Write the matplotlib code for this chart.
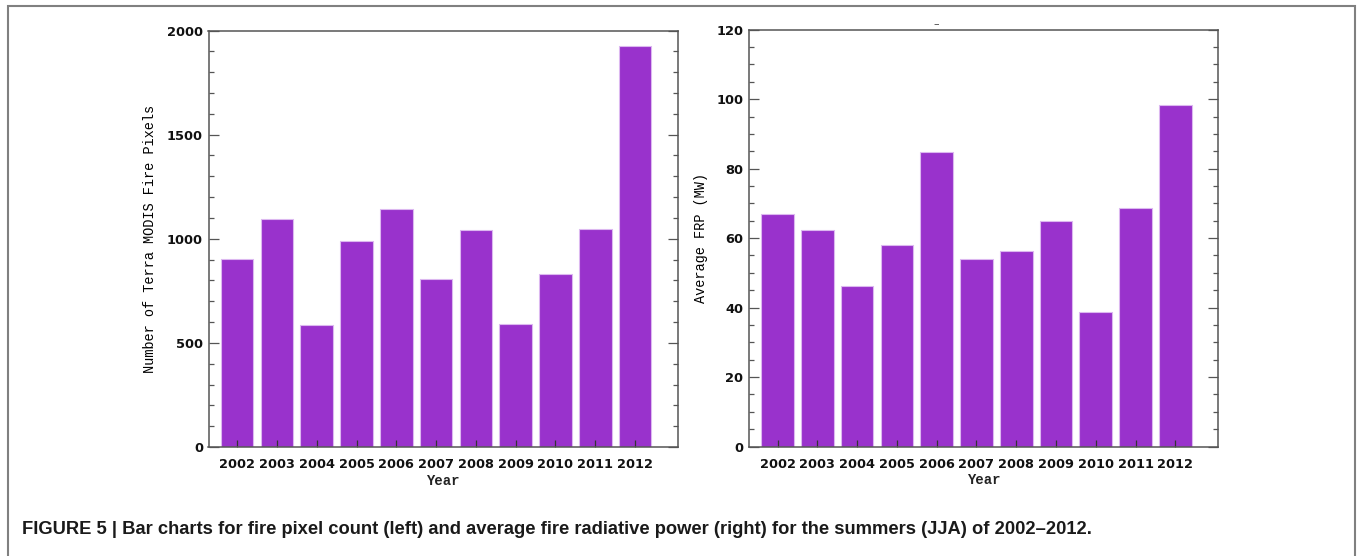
import matplotlib
matplotlib.use("Agg")
import matplotlib.pyplot as plt
import matplotlib.patches as mpatches
from matplotlib.ticker import MultipleLocator
import numpy as np

years = ["2002", "2003", "2004", "2005", "2006", "2007", "2008", "2009", "2010", "2011", "2012"]
fire_pixels = [904, 1093, 585, 989, 1144, 808, 1040, 590, 829, 1048, 1925]
avg_frp = [67.0, 62.4, 46.3, 58.0, 84.7, 53.9, 56.2, 64.8, 38.6, 68.7, 98.2]

left_ylabel = "Number of Terra MODIS Fire Pixels"
right_ylabel = "Average FRP (MW)"
xlabel = "Year"
caption = ("FIGURE 5 | Bar charts for fire pixel count (left) and average fire radiative power "
           "(right) for the summers (JJA) of 2002\u20132012.")

W, H = 1358, 556
fig = plt.figure(figsize=(W / 100, H / 100), dpi=100)

bar_color = "#9932CC"
edge_color = "#dcb8f0"
spine_color = "#555555"
label_font = ["Liberation Mono", "DejaVu Sans Mono"]


def px_axes(x0, x1, ytop, ybot):
    return fig.add_axes([x0 / W, 1 - ybot / H, (x1 - x0) / W, (ybot - ytop) / H])


def style(ax, data, ymax, major, minor, ylabel, ylabelpad):
    x = np.arange(len(years))
    ax.bar(x, data, width=0.82, color=bar_color, edgecolor=edge_color, linewidth=0.8, zorder=1)
    ax.set_xlim(-0.72, len(years) - 1 + 1.08)
    ax.set_ylim(0, ymax)
    ax.set_xticks(x)
    ax.set_xticklabels(years)
    ax.yaxis.set_major_locator(MultipleLocator(major))
    ax.yaxis.set_minor_locator(MultipleLocator(minor))
    ax.tick_params(axis="y", which="major", direction="in", length=7, width=0.9,
                   colors=spine_color, labelcolor="black", left=True, right=True,
                   labelsize=9.4, pad=4)
    ax.tick_params(axis="y", which="minor", direction="in", length=3.8, width=0.9,
                   colors=spine_color, left=True, right=True)
    ax.tick_params(axis="x", which="major", direction="in", length=5, width=0.9,
                   colors="#333333", labelcolor="black", bottom=True, top=False,
                   labelsize=9.3, pad=8)
    for lab in ax.get_xticklabels() + ax.get_yticklabels():
        lab.set_fontfamily("DejaVu Sans")
        lab.set_fontweight("bold")
        lab.set_color("#111111")
    for s in ax.spines.values():
        s.set_color(spine_color)
        s.set_linewidth(1.1)
        s.set_zorder(3)
    ax.set_axisbelow(False)
    ax.set_ylabel(ylabel, family=label_font, fontsize=9.8, labelpad=ylabelpad, color="black")
    ax.set_xlabel(xlabel, family=label_font, fontsize=10, fontweight="bold", labelpad=2,
                  color="#222222")


ax1 = px_axes(208.5, 678.0, 30.5, 447.0)
style(ax1, fire_pixels, 2000, 500, 100, left_ylabel, 7)

ax2 = px_axes(749.0, 1218.3, 29.7, 446.5)
style(ax2, avg_frp, 120, 20, 5, right_ylabel, 6)

# small stray dash above right panel (present in the original figure)
fig.text(936 / W, 1 - 24 / H, "\u2013", fontsize=8, ha="center", va="center", color="#444444")

# outer frame
frame = mpatches.Rectangle((7.5 / W, -0.02), (1355 - 7.5) / W, 1.02 - 6 / H,
                           transform=fig.transFigure, fill=False,
                           edgecolor="#808080", linewidth=1.5, zorder=0)
fig.patches.append(frame)

fig.text(22 / W, 1 - 530 / H, caption, ha="left", va="center", fontsize=13.2,
         fontweight="bold", family=["Liberation Sans Narrow", "Liberation Sans", "DejaVu Sans"],
         color="#1a1a1a")

fig.savefig("out.png", dpi=100)
